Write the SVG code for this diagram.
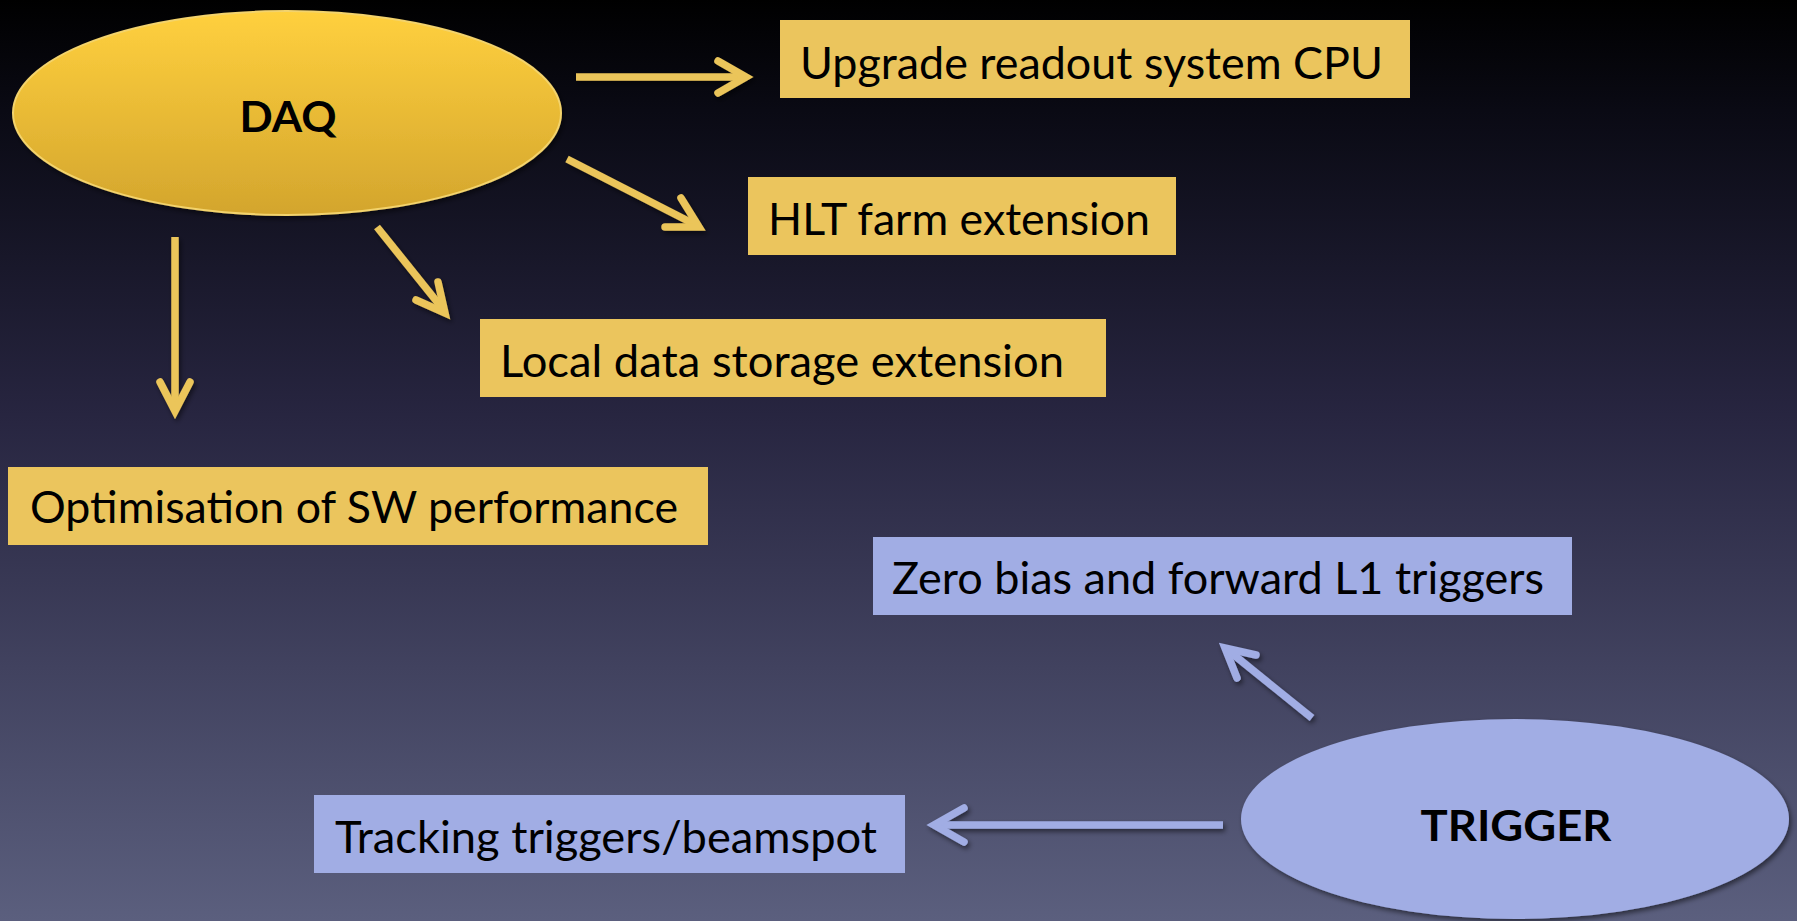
<svg xmlns="http://www.w3.org/2000/svg" width="1797" height="921" viewBox="0 0 1797 921">
<defs>
<linearGradient id="bg" x1="0" y1="0" x2="0" y2="1">
<stop offset="0" stop-color="#000000"/>
<stop offset="0.12" stop-color="#0a0a14"/>
<stop offset="0.45" stop-color="#272540"/>
<stop offset="1" stop-color="#5b5f7e"/>
</linearGradient>
<linearGradient id="daqg" x1="0" y1="0" x2="0" y2="1">
<stop offset="0" stop-color="#ffd03e"/>
<stop offset="1" stop-color="#d3a52d"/>
</linearGradient>
<filter id="sh" x="-20%" y="-20%" width="140%" height="140%">
<feDropShadow dx="2" dy="3" stdDeviation="2.5" flood-color="#000" flood-opacity="0.5"/>
</filter>
<style>
.lbl{font-family:Lato,"Liberation Sans",sans-serif;font-size:44px;fill:#000}
.bold{font-family:Lato,"Liberation Sans",sans-serif;font-size:42px;font-weight:bold;fill:#000}
.ybox{fill:#ebc55d}
.bbox{fill:#a1ade4}
.ya{stroke:#ebc55a;stroke-width:7.5;fill:none}
.ba{stroke:#a1ade4;stroke-width:7.5;fill:none}
.shaft{stroke-linecap:butt}
.head{stroke-linecap:round;stroke-linejoin:miter;stroke-miterlimit:10}
</style>
</defs>
<rect x="0" y="0" width="1797" height="921" fill="url(#bg)"/>

<g id="connectors">
<g class="ya" filter="url(#sh)">
<line class="shaft" x1="576" y1="77" x2="742" y2="77"/>
<polyline class="head" points="718,61 746,77 718,93"/>
<line class="shaft" x1="567" y1="159" x2="694" y2="224"/>
<polyline class="head" points="681,198 699,227 665,227"/>
<line class="shaft" x1="377" y1="227" x2="442" y2="308"/>
<polyline class="head" points="438,282 445,313 416,300"/>
<line class="shaft" x1="175" y1="237" x2="175" y2="406"/>
<polyline class="head" points="160,382 175,411 190,382"/>
</g>
<g class="ba" filter="url(#sh)">
<line class="shaft" x1="1312" y1="718" x2="1229" y2="651"/>
<polyline class="head" points="1256,655 1225,648 1237,678"/>
<line class="shaft" x1="1223" y1="825" x2="938" y2="825"/>
<polyline class="head" points="964,808 934,825 964,842"/>
</g>
</g>

<g id="daq">
<ellipse cx="287" cy="113" rx="274" ry="102" fill="url(#daqg)" stroke="#f3d36c" stroke-width="2" filter="url(#sh)"/>
<text class="bold" x="288" y="132" text-anchor="middle" textLength="97" lengthAdjust="spacingAndGlyphs">DAQ</text>
</g>

<g id="upgrade">
<rect class="ybox" x="780" y="20" width="630" height="78"/>
<text class="lbl" x="800" y="79" textLength="583" lengthAdjust="spacingAndGlyphs">Upgrade readout system CPU</text>
</g>

<g id="hlt">
<rect class="ybox" x="748" y="177" width="428" height="78"/>
<text class="lbl" x="768" y="235" textLength="382" lengthAdjust="spacingAndGlyphs">HLT farm extension</text>
</g>

<g id="local">
<rect class="ybox" x="480" y="319" width="626" height="78"/>
<text class="lbl" x="500" y="377" textLength="564" lengthAdjust="spacingAndGlyphs">Local data storage extension</text>
</g>

<g id="optimisation">
<rect class="ybox" x="8" y="467" width="700" height="78"/>
<text class="lbl" x="30" y="523" textLength="648" lengthAdjust="spacingAndGlyphs">Optimisation of SW performance</text>
</g>

<g id="zerobias">
<rect class="bbox" x="873" y="537" width="699" height="78"/>
<text class="lbl" x="892" y="594" textLength="652" lengthAdjust="spacingAndGlyphs">Zero bias and forward L1 triggers</text>
</g>

<g id="tracking">
<rect class="bbox" x="314" y="795" width="591" height="78"/>
<text class="lbl" x="335" y="853" textLength="542" lengthAdjust="spacingAndGlyphs">Tracking triggers/beamspot</text>
</g>

<g id="trigger">
<ellipse cx="1515" cy="819" rx="274" ry="100" fill="#a1ade4" filter="url(#sh)"/>
<text class="bold" x="1516" y="841" text-anchor="middle" textLength="191" lengthAdjust="spacingAndGlyphs">TRIGGER</text>
</g>
</svg>
